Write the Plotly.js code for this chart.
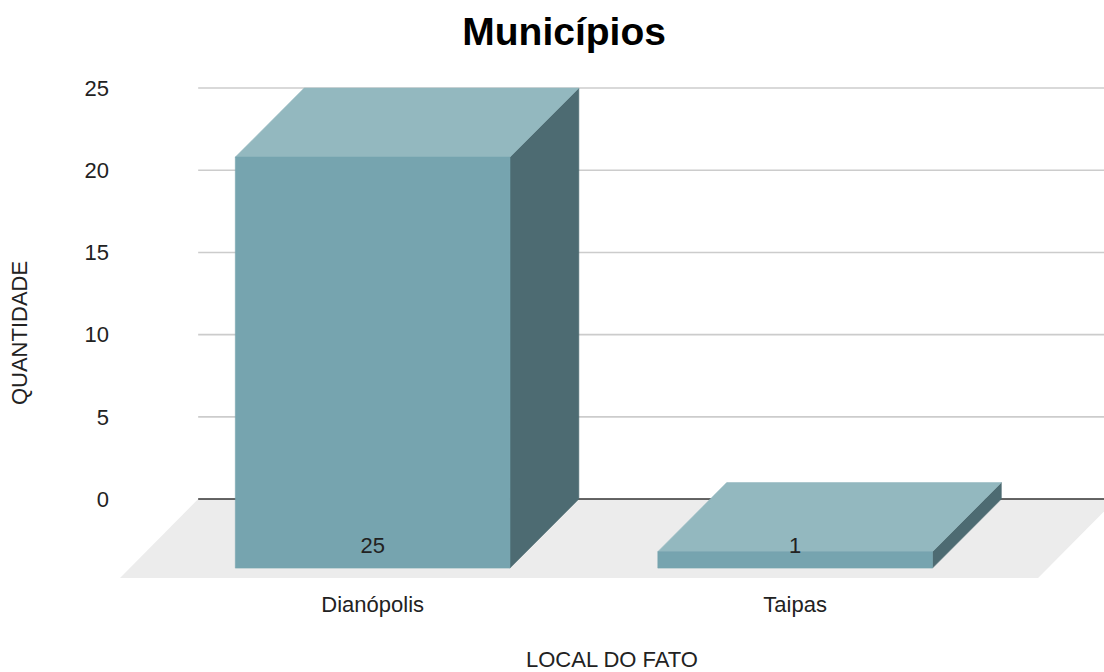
<!DOCTYPE html>
<html>
<head>
<meta charset="utf-8">
<script src="https://cdn.plot.ly/plotly-3.0.1.min.js"></script>
<style>
  html, body { margin: 0; padding: 0; background: #ffffff; }
  #chart { width: 1104px; height: 672px; }
</style>
</head>
<body>
<div id="chart"></div>
<script>
// Data
const categories = ['Dianópolis', 'Taipas'];
const quantities = [25, 1];
const yTicks = [0, 5, 10, 15, 20, 25];

// 3D look: depth offset of each column (in axis units) and column half-width
const DEPTH_X = 0.163;
const DEPTH_Y = 4.2;
const HALF_W = 0.325;
// floor slab (in axis units)
const FLOOR_BACK_LEFT = -0.413;
const FLOOR_FRONT_LEFT = -0.598;
const FLOOR_FRONT_RIGHT = 1.575;
const FLOOR_DEPTH_X = 0.185;
const FLOOR_FRONT_Y = -4.8;
const X_RANGE = [-0.598, 1.731];
const Y_RANGE = [-5.29, 25.49];

const FRONT = '#76a4af';
const TOP = '#93b8bf';
const SIDE = '#4d6b72';

const font = 'Liberation Sans, Arial, sans-serif';

function poly(xs, ys, color) {
  return {
    type: 'scatter', mode: 'lines', x: xs.concat([xs[0]]), y: ys.concat([ys[0]]),
    fill: 'toself', fillcolor: color, line: { width: 0.6, color: color },
    hoverinfo: 'skip', showlegend: false
  };
}

const traces = [];
quantities.forEach((v, i) => {
  const l = i - HALF_W, r = i + HALF_W;
  const yb = -DEPTH_Y, yt = v - DEPTH_Y;
  // right side face
  traces.push(poly([r, r + DEPTH_X, r + DEPTH_X, r], [yb, 0, v, yt], SIDE));
  // top face
  traces.push(poly([l, r, r + DEPTH_X, l + DEPTH_X], [yt, yt, v, v], TOP));
  // front face
  traces.push(poly([l, r, r, l], [yb, yb, yt, yt], FRONT));
});

// value labels near the foot of each column
traces.push({
  type: 'scatter', mode: 'text',
  x: categories.map((c, i) => i),
  y: quantities.map(() => -DEPTH_Y + 1.28),
  text: quantities.map(String),
  textposition: 'middle center',
  textfont: { family: font, size: 22, color: '#222222' },
  cliponaxis: false, hoverinfo: 'skip', showlegend: false
});

const shapes = [];
// floor
shapes.push({
  type: 'path', xref: 'x', yref: 'y', layer: 'below',
  path: `M ${FLOOR_FRONT_LEFT} ${FLOOR_FRONT_Y} L ${FLOOR_BACK_LEFT} 0 L ${FLOOR_FRONT_RIGHT + FLOOR_DEPTH_X} 0 L ${FLOOR_FRONT_RIGHT} ${FLOOR_FRONT_Y} Z`,
  fillcolor: '#ececec', line: { width: 0 }
});
// gridlines on the back wall
yTicks.forEach(t => {
  shapes.push({
    type: 'line', xref: 'x', yref: 'y', layer: 'below',
    x0: FLOOR_BACK_LEFT, x1: X_RANGE[1], y0: t, y1: t,
    line: { color: t === 0 ? '#333333' : '#cccccc', width: 1.6 }
  });
});

const layout = {
  width: 1104, height: 672,
  margin: { l: 120, r: 0, t: 80, b: 86 },
  paper_bgcolor: '#ffffff', plot_bgcolor: '#ffffff',
  showlegend: false,
  title: {
    text: '<b>Municípios</b>',
    font: { family: font, size: 39, color: '#000000' },
    x: 0.511, xanchor: 'center', y: 0.953, yanchor: 'middle'
  },
  xaxis: {
    range: X_RANGE, showgrid: false, zeroline: false, showline: false,
    tickmode: 'array', tickvals: categories.map((c, i) => i), ticktext: categories,
    ticks: '', ticklabelstandoff: 3,
    tickfont: { family: font, size: 22, color: '#222222' },
    title: { text: 'LOCAL DO FATO', standoff: 36, font: { family: font, size: 22, color: '#222222' } },
    fixedrange: true
  },
  yaxis: {
    range: Y_RANGE, showgrid: false, zeroline: false, showline: false,
    tickmode: 'array', tickvals: yTicks, ticktext: yTicks.map(String),
    ticks: '', ticklabelstandoff: 10,
    tickfont: { family: font, size: 22, color: '#222222' },
    title: { text: 'QUANTIDADE', standoff: 50, font: { family: font, size: 22, color: '#222222' } },
    fixedrange: true
  },
  shapes: shapes
};

Plotly.newPlot('chart', traces, layout, { displayModeBar: false, staticPlot: true });
</script>
</body>
</html>
